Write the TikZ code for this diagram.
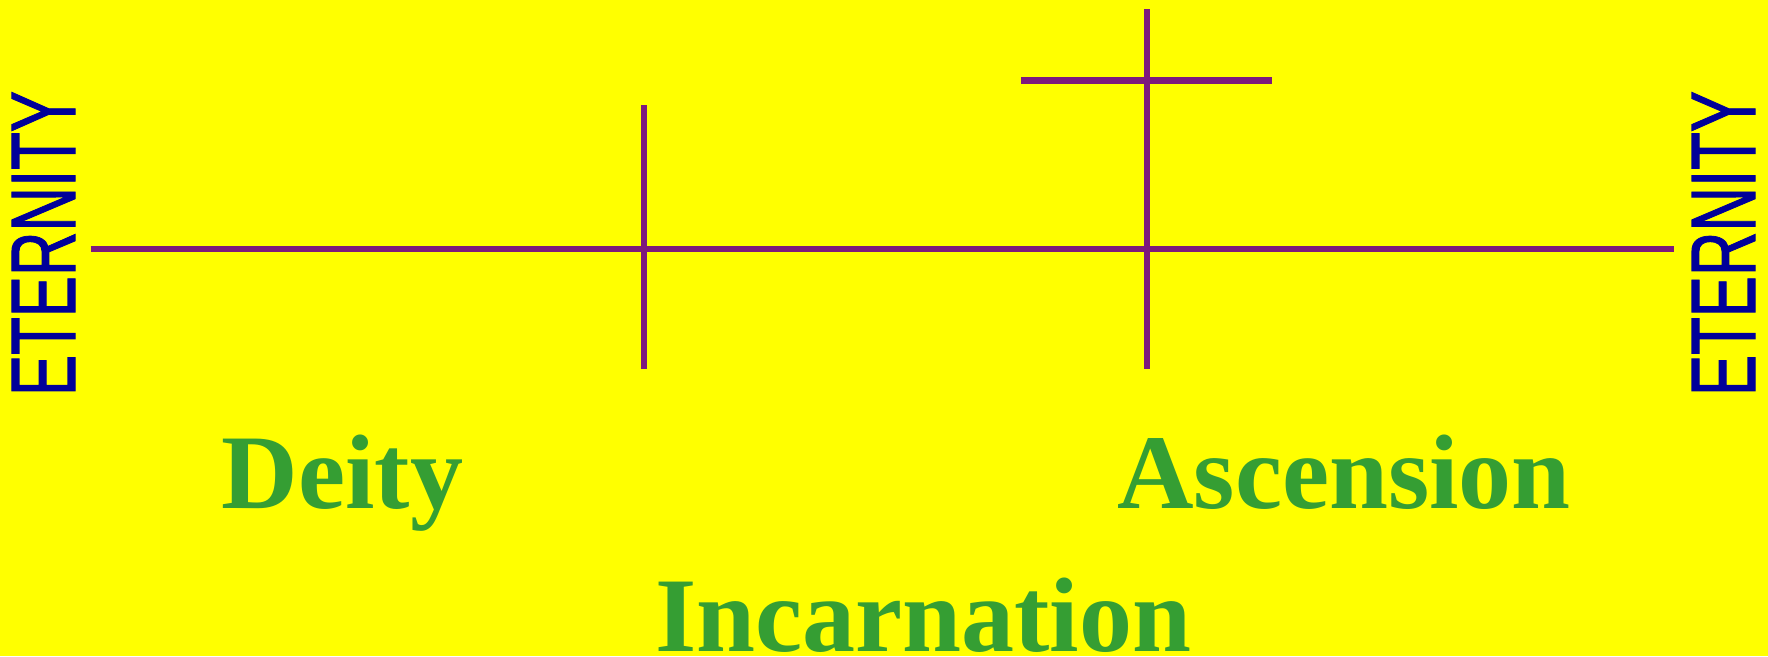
\documentclass[tikz,border=0pt]{standalone}
\usepackage{fontspec}
\setmainfont{Liberation Serif}
\newfontfamily\etfont[FakeBold=1.2]{Liberation Sans}
\definecolor{bgyellow}{RGB}{255,255,0}
\definecolor{linepurple}{RGB}{125,25,125}
\definecolor{labelgreen}{RGB}{53,158,51}
\definecolor{eternblue}{RGB}{0,0,153}
\begin{document}
\begin{tikzpicture}[x=1pt,y=-1pt,
  timeline/.style={draw=linepurple,line width=6.7pt},
  era/.style={font=\fontsize{106}{106}\selectfont\bfseries,text=labelgreen,inner sep=0pt,anchor=base},
  eternity/.style={text=eternblue,inner sep=0pt,rotate=90}]
\fill[bgyellow] (0,0) rectangle (1768,656);
\useasboundingbox (0,0) rectangle (1768,656);
% timeline
\coordinate (L) at (90.7,249);
\coordinate (R) at (1674,249);
\coordinate (bt) at (644,105);
\coordinate (bb) at (644,369);
\coordinate (at) at (1147,9);
\coordinate (ab) at (1147,369);
\coordinate (cl) at (1021,80.7);
\coordinate (cr) at (1272,80.7);
\draw[timeline] (L) -- (R);
\draw[timeline] (bt) -- (bb);
\draw[timeline] (at) -- (ab);
\draw[timeline] (cl) -- (cr);
% labels
\node[eternity] (eL) at (43.5,243.5) {\resizebox{305pt}{63pt}{\etfont ETERNITY}};
\node[eternity] (eR) at (1723.5,243.5) {\resizebox{305pt}{63pt}{\etfont ETERNITY}};
\node[era] (deity) at (342.6,508.6) {Deity};
\node[era] (asc) at (1344,508.6) {Ascension};
\node[era] (inc) at (923,651.7) {Incarnation};
\end{tikzpicture}
\end{document}
